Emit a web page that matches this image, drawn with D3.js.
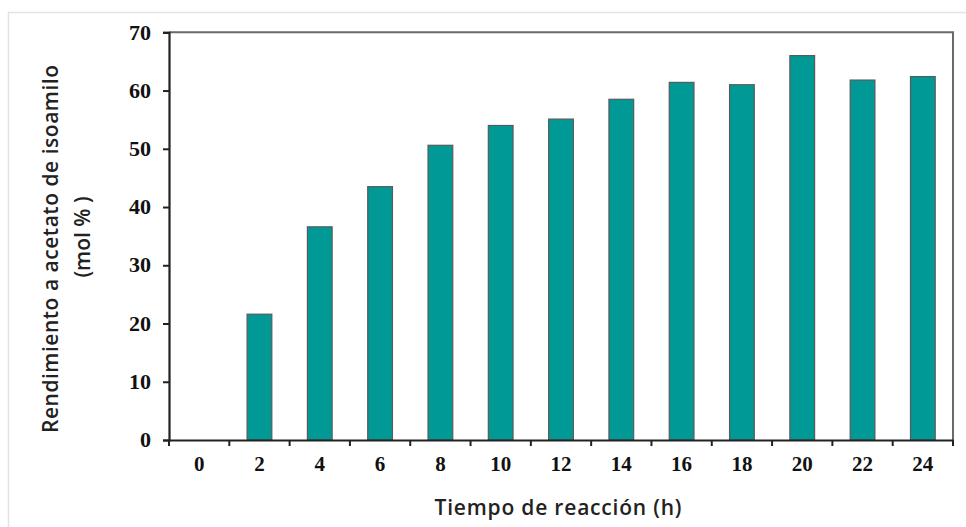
<!DOCTYPE html>
<html>
<head>
<meta charset="utf-8">
<script src="https://cdn.jsdelivr.net/npm/d3@7/dist/d3.min.js"></script>
<style>
  html, body { margin: 0; padding: 0; background: #fff; }
  svg { display: block; }
</style>
</head>
<body>
<script>
const categories = ["0", "2", "4", "6", "8", "10", "12", "14", "16", "18", "20", "22", "24"];
const values = [0, 21.6, 36.6, 43.5, 50.6, 54.0, 55.1, 58.5, 61.4, 61.0, 66.0, 61.8, 62.4];
const yTicks = [0, 10, 20, 30, 40, 50, 60, 70];
const yTitle = ["Rendimiento a acetato de isoamilo", "(mol % )"];
const xTitle = "Tiempo de reacción (h)";

const W = 966, H = 527;
const m = { left: 169, right: 953, top: 32.3, bottom: 440 };

const svg = d3.select("body").append("svg").attr("width", W).attr("height", H);

// outer light frame
svg.append("path")
  .attr("d", `M8.5,${H} V12.5 H${W}`)
  .attr("fill", "none").attr("stroke", "#e4e4e4").attr("stroke-width", 1.5);

const x = d3.scaleBand().domain(categories).range([m.left, m.right]).paddingInner(0.59).paddingOuter(0.295);
const y = d3.scaleLinear().domain([0, 70]).range([m.bottom, m.top]);

// plot box top/right
svg.append("path")
  .attr("d", `M${m.left},${m.top} H${m.right} V${m.bottom}`)
  .attr("fill", "none").attr("stroke", "#6a6a6a").attr("stroke-width", 2);

// bars
svg.append("g").selectAll("rect").data(values).join("rect")
  .attr("x", (d, i) => x(categories[i]))
  .attr("width", x.bandwidth())
  .attr("y", d => y(d))
  .attr("height", d => y(0) - y(d))
  .attr("fill", "#009995")
  .attr("stroke", "#5a5a5a")
  .attr("stroke-width", d => d > 0 ? 1.2 : 0);

const tickFont = "'Liberation Serif', 'Times New Roman', serif";
const titleFont = "'Open Sans', 'Noto Sans', sans-serif";

// y axis
const yAxis = svg.append("g").attr("transform", `translate(${m.left},0)`)
  .call(d3.axisLeft(y).tickValues(yTicks).tickSize(6).tickPadding(18).tickFormat(d3.format("d")));
yAxis.select(".domain").attr("stroke", "#222").attr("stroke-width", 2.2);
yAxis.selectAll(".tick line").attr("stroke", "#222").attr("stroke-width", 2);
yAxis.selectAll("text")
  .attr("font-family", tickFont)
  .attr("font-weight", "bold").attr("font-size", 21).attr("fill", "#111")
  .attr("transform", "scale(1.05,1)")
  .attr("x", -18 / 1.05);

// x axis with ticks at band boundaries
const xAxisG = svg.append("g").attr("transform", `translate(0,${m.bottom})`);
xAxisG.call(d3.axisBottom(x).tickSize(0).tickPadding(16));
xAxisG.select(".domain").attr("stroke", "#222").attr("stroke-width", 2.2);
xAxisG.selectAll("text")
  .attr("font-family", tickFont)
  .attr("font-weight", "bold").attr("font-size", 21).attr("fill", "#111");
const step = x.step();
const boundaries = d3.range(categories.length + 1).map(i => m.left + i * step);
xAxisG.selectAll("line.bt").data(boundaries).join("line")
  .attr("class", "bt")
  .attr("x1", d => d).attr("x2", d => d)
  .attr("y1", 0).attr("y2", 6)
  .attr("stroke", "#222").attr("stroke-width", 2);

// axis titles
svg.append("text")
  .attr("x", 558).attr("y", 515)
  .attr("text-anchor", "middle")
  .attr("font-family", titleFont).attr("font-weight", 600)
  .attr("font-size", 21).attr("fill", "#222")
  .attr("textLength", 247)
  .text(xTitle);

svg.append("text")
  .attr("transform", "translate(58,249) rotate(-90)")
  .attr("text-anchor", "middle")
  .attr("font-family", titleFont).attr("font-weight", 600)
  .attr("font-size", 21).attr("fill", "#222")
  .attr("textLength", 368)
  .text(yTitle[0]);

svg.append("text")
  .attr("transform", "translate(90,237) rotate(-90)")
  .attr("text-anchor", "middle")
  .attr("font-family", titleFont).attr("font-weight", 600)
  .attr("font-size", 21).attr("fill", "#222")
  .text(yTitle[1]);
</script>
</body>
</html>
